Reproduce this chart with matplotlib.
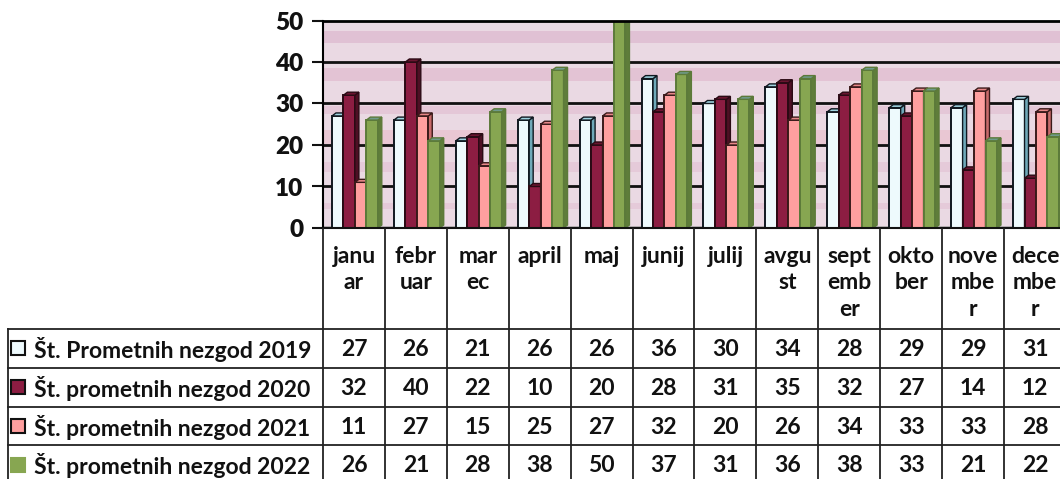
import matplotlib
matplotlib.use("Agg")
import matplotlib.pyplot as plt
from matplotlib.patches import Polygon, Rectangle

plt.rcParams['font.family'] = ['Lato', 'DejaVu Sans']
plt.rcParams['font.weight'] = 'bold'

# ---------------- data ----------------
month_labels = ["janu\nar", "febr\nuar", "mar\nec", "april", "maj", "junij", "julij",
                "avgu\nst", "sept\nemb\ner", "okto\nber", "nove\nmbe\nr", "dece\nmbe\nr"]
series_names = ["Št. Prometnih nezgod 2019", "Št. prometnih nezgod 2020",
                "Št. prometnih nezgod 2021", "Št. prometnih nezgod 2022"]
v2019 = [27, 26, 21, 26, 26, 36, 30, 34, 28, 29, 29, 31]
v2020 = [32, 40, 22, 10, 20, 28, 31, 35, 32, 27, 14, 12]
v2021 = [11, 27, 15, 25, 27, 32, 20, 26, 34, 33, 33, 28]
v2022 = [26, 21, 28, 38, 50, 37, 31, 36, 38, 33, 21, 22]
series_values = [v2019, v2020, v2021, v2022]
y_ticks = [0, 10, 20, 30, 40, 50]

# ---------------- style ----------------
face_cols = ["#eefafd", "#8c1d42", "#ff9f9f", "#87a651"]
side_cols = ["#6fa9b9", "#4e0f24", "#c86a6a", "#5f7d3a"]
top_cols = ["#9fd3e0", "#6a1530", "#e88888", "#6f9a8a"]
edge_cols = ["#101820", "#2a0a14", "#3a1a1a", "#5c7a3a"]
FS = 16.5

W, H = 1060, 479
fig = plt.figure(figsize=(W / 100, H / 100), dpi=100)
fig.patch.set_facecolor("white")

px_l, px_r = 323, 1066
px_top, px_bot = 20.5, 228
ax = fig.add_axes([px_l / W, 1 - px_bot / H, (px_r - px_l) / W, (px_bot - px_top) / H])
n = len(month_labels)
ax.set_xlim(-0.5, n - 0.5)
ax.set_ylim(0, 50)
ax.set_facecolor("#ead9e3")

# striped background (scan look)
for lo, hi, c, a in [(44.5, 47.5, "#cf97b8", 0.35), (35.5, 38.5, "#d79ab8", 0.35),
                     (27.5, 29.5, "#d7a0bc", 0.3), (19.5, 23.5, "#e8a0b0", 0.3),
                     (13.5, 16.0, "#d7a0bc", 0.25), (4.5, 6.0, "#d7a0bc", 0.25)]:
    ax.axhspan(lo, hi, color=c, alpha=a, lw=0, zorder=0)

# floor
ax.axhspan(0, 0.5, color="#b9b2b6", lw=0, zorder=0.5)

for t in y_ticks[1:-1]:
    ax.axhline(t, color="#111111", lw=2.0, zorder=1)

# 3D bars
bw = 0.185
start = -0.355
dx = 4 / 62
dy = 3 / ((px_bot - px_top) / 50)
for s, vals in enumerate(series_values):
    xs = [i + start + s * bw for i in range(n)]
    ax.bar(xs, vals, width=bw, align="edge", color=face_cols[s],
           edgecolor=edge_cols[s], linewidth=1.4, zorder=3 + s)
    for x0, v in zip(xs, vals):
        side = Polygon([(x0 + bw, 0), (x0 + bw + dx, dy), (x0 + bw + dx, v + dy), (x0 + bw, v)],
                       closed=True, facecolor=side_cols[s], edgecolor=edge_cols[s],
                       lw=1.0, zorder=3 + s)
        top = Polygon([(x0, v), (x0 + dx, v + dy), (x0 + bw + dx, v + dy), (x0 + bw, v)],
                      closed=True, facecolor=top_cols[s], edgecolor=edge_cols[s],
                      lw=1.0, zorder=3 + s)
        ax.add_patch(side)
        ax.add_patch(top)

for sp in ["right", "bottom"]:
    ax.spines[sp].set_visible(False)
ax.spines["top"].set_linewidth(2.0)
ax.spines["top"].set_zorder(10)
ax.spines["left"].set_linewidth(1.5)
ax.axhline(0, color="#111111", lw=1.5, zorder=10, clip_on=False)
ax.set_yticks(y_ticks)
ax.set_yticklabels([str(t) for t in y_ticks], fontsize=17.5, fontweight="heavy")
ax.tick_params(axis="y", length=8, width=1.5, pad=6, colors="#111111")
ax.set_xticks([])

# ---------------- data table ----------------
tb = fig.add_axes([px_l / W, 0, (px_r - px_l) / W, 1 - px_bot / H])
tb.set_xlim(-0.5, n - 0.5)
tb.set_ylim(H, px_bot)
tb.axis("off")
ppu = (px_r - px_l) / n  # pixels per category unit
leg_left = -0.5 - (px_l - 8) / ppu
hdr_top, hdr_bot = 229, 329
row_h = 38.8
row_edges = [hdr_bot + k * row_h for k in range(len(series_names) + 1)]
lc = "#222222"
lw = 1.3

for k in range(n + 1):
    tb.plot([k - 0.5, k - 0.5], [hdr_top, row_edges[-1]], color=lc, lw=lw, clip_on=False)
tb.plot([leg_left, leg_left], [hdr_bot, row_edges[-1]], color=lc, lw=lw, clip_on=False)
for y in row_edges:
    tb.plot([leg_left, n - 0.5], [y, y], color=lc, lw=lw, clip_on=False)

for i, lab in enumerate(month_labels):
    tb.text(i, 246, lab, ha="center", va="top", fontsize=FS, fontweight="bold",
            linespacing=1.32, color="#111111")

for s, (name, vals) in enumerate(zip(series_names, series_values)):
    yc = (row_edges[s] + row_edges[s + 1]) / 2
    kx = leg_left + 3 / ppu
    tb.add_patch(Rectangle((kx, yc - 7), 14 / ppu, 14, facecolor=face_cols[s],
                           edgecolor=("#111111" if s < 3 else face_cols[s]), lw=1.5,
                           clip_on=False))
    tb.text(leg_left + 26 / ppu, yc + 1, name, ha="left", va="center", fontsize=FS,
            fontweight="bold", color="#111111")
    for i, v in enumerate(vals):
        tb.text(i, yc + 1, str(v), ha="center", va="center", fontsize=FS,
                fontweight="bold", color="#111111")

fig.savefig("out.png", dpi=100)
